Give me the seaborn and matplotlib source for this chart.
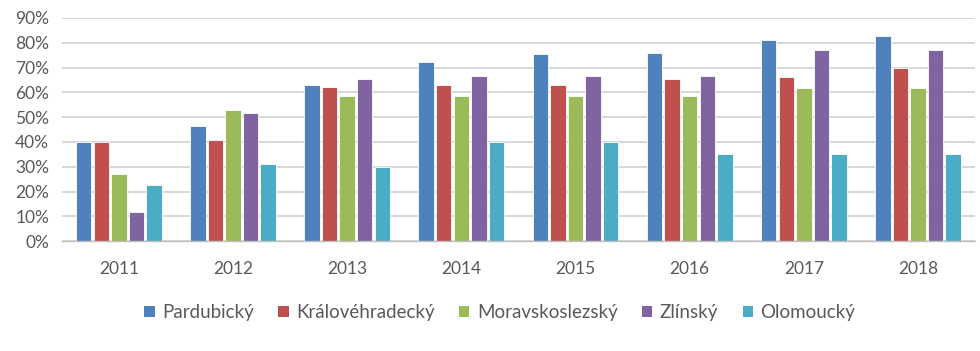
import matplotlib
matplotlib.use("Agg")
import matplotlib.pyplot as plt
from matplotlib.ticker import PercentFormatter
from matplotlib.patches import Patch
import pandas as pd
import seaborn as sns

years = ["2011", "2012", "2013", "2014", "2015", "2016", "2017", "2018"]
regions = ["Pardubický", "Královéhradecký", "Moravskoslezský", "Zlínský", "Olomoucký"]

pardubicky = [40.0, 46.5, 62.8, 72.2, 75.3, 76.0, 81.0, 82.6]
kralovehradecky = [40.0, 40.7, 62.0, 62.8, 62.8, 65.2, 66.3, 70.0]
moravskoslezsky = [27.2, 52.7, 58.4, 58.4, 58.4, 58.4, 61.6, 61.6]
zlinsky = [11.6, 51.8, 65.5, 66.7, 66.7, 66.7, 76.9, 76.9]
olomoucky = [22.7, 31.2, 30.0, 39.8, 39.8, 35.0, 35.0, 35.0]

colors = ["#4F81BD", "#C0504D", "#9BBB59", "#8064A2", "#4BACC6"]

series = [pardubicky, kralovehradecky, moravskoslezsky, zlinsky, olomoucky]
df = pd.DataFrame(
    [(y, r, v) for r, vals in zip(regions, series) for y, v in zip(years, vals)],
    columns=["rok", "kraj", "podíl"],
)

sns.set_style("white")
plt.rcParams["font.family"] = ["Lato", "DejaVu Sans"]
text_color = "#595959"

fig = plt.figure(figsize=(9.8, 3.51), dpi=100)
ax = fig.add_axes([0.063, 0.313, 0.932, 0.636])

sns.barplot(
    data=df, x="rok", y="podíl", hue="kraj", order=years, hue_order=regions,
    palette=colors, width=0.77, gap=0.12, saturation=1,
    edgecolor="white", linewidth=0.6, legend=False, ax=ax, zorder=3,
)

ax.set_ylim(0, 90)
ax.set_yticks(range(0, 91, 10))
ax.yaxis.set_major_formatter(PercentFormatter(decimals=0))
ax.set_xlim(-0.5, len(years) - 0.5)
ax.grid(axis="y", color="#D4D4D4", linewidth=1.3, zorder=0)
ax.grid(axis="x", visible=False)
for side in ["left", "right", "top"]:
    ax.spines[side].set_visible(False)
ax.spines["bottom"].set_color("#BFBFBF")
ax.spines["bottom"].set_linewidth(1.0)
ax.spines["bottom"].set_zorder(4)
ax.tick_params(axis="both", length=0, labelsize=12.5, labelcolor=text_color)
ax.tick_params(axis="x", pad=14)
ax.tick_params(axis="y", pad=9)
ax.set_xlabel("")
ax.set_ylabel("")

handles = [Patch(facecolor=c, edgecolor="none") for c in colors]
fig.legend(
    handles, regions, loc="center", bbox_to_anchor=(0.51, 0.11), ncol=5,
    frameon=False, fontsize=13.5, labelcolor=text_color,
    handlelength=0.55, handleheight=0.55, handletextpad=0.4, columnspacing=1.3,
)

fig.savefig("out.png", dpi=100)
